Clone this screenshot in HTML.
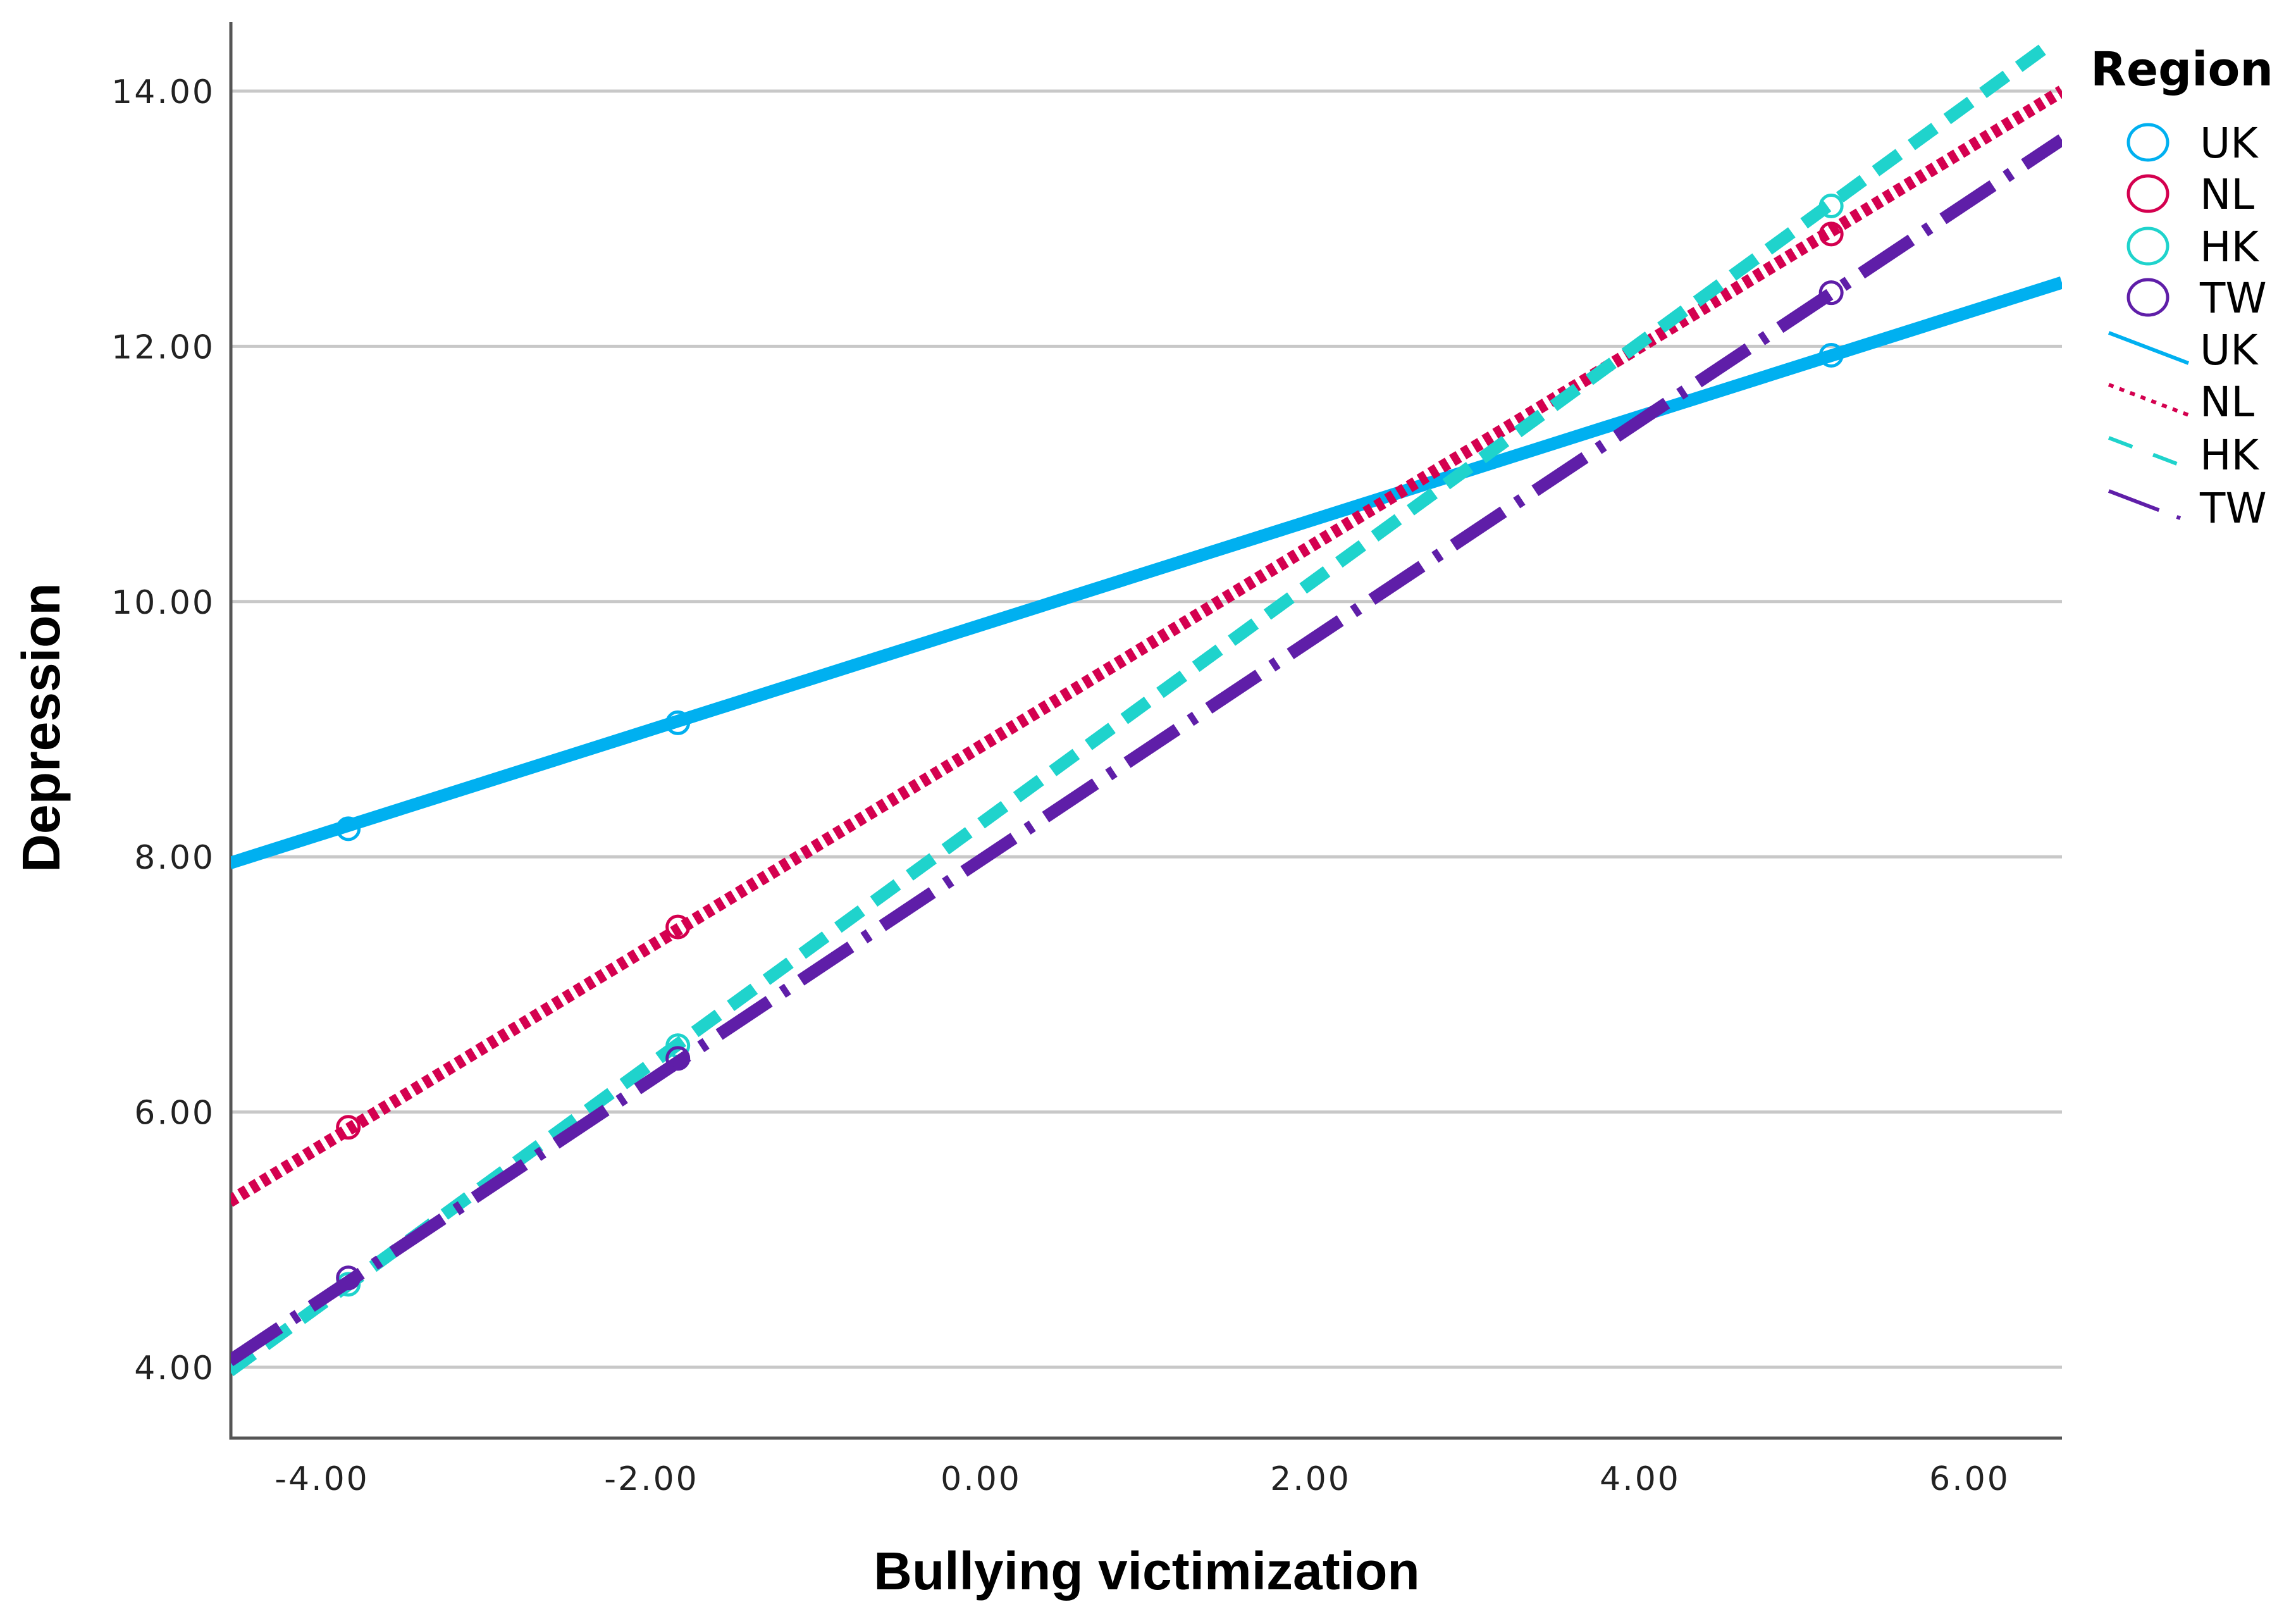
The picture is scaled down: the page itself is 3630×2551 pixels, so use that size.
<!DOCTYPE html>
<html><head><meta charset="utf-8">
<style>
html,body{margin:0;padding:0;background:#fff;}
svg{display:block;}
</style></head>
<body>
<svg id="chart" width="3630" height="2551" viewBox="0 0 3630 2551" xmlns="http://www.w3.org/2000/svg"></svg>
<script>
// ---- data ----
const regions = ["UK","NL","HK","TW"];
const lineStartX = [-4.56,-4.56,-4.56,-4.56];
const lineStartY = [7.95,5.30,3.97,4.05];
const lineEndX = [6.56,6.56,6.50,6.56];
const lineEndY = [12.50,14.00,14.38,13.62];
const pointX = [-3.84,-1.84,5.16];
const ukPoints = [8.22,9.05,11.93];
const nlPoints = [5.88,7.45,12.88];
const hkPoints = [4.65,6.52,13.10];
const twPoints = [4.70,6.42,12.42];
const xTicks = [-4,-2,0,2,4,6];
const xTickLabels = ["-4.00","-2.00","0.00","2.00","4.00","6.00"];
const yTicks = [4,6,8,10,12,14];
const yTickLabels = ["4.00","6.00","8.00","10.00","12.00","14.00"];

// ---- styles ----
const colors = ["#00b0f0","#d4004f","#1fd3cc","#5f1ea8"];
const dashes = ["none","12 8","46 24","95 25 10 25"];
const pointSets = [ukPoints,nlPoints,hkPoints,twPoints];

const L=365, R=3260, T=35, B=2273;
const x = v => 1551 + v*260.5;
const y = v => 2161 - (v-4)*201.7;
const NS="http://www.w3.org/2000/svg";
const svg=document.getElementById('chart');
function mk(tag,attrs,parent){const e=document.createElementNS(NS,tag);for(const k in attrs)e.setAttribute(k,attrs[k]);(parent||svg).appendChild(e);return e;}

// grid
const grid=mk('g',{});


yTicks.forEach((t,i)=>{
  const g=mk('line',{x1:L,x2:R,y1:y(t),y2:y(t),stroke:'#c8c8c8','stroke-width':5},grid);
  
  
  const tx=mk('text',{x:340,y:y(t)+19,'text-anchor':'end','font-family':'DejaVu Sans, sans-serif','font-size':52,fill:'#222','letter-spacing':'3'});
  tx.textContent=yTickLabels[i];
  
  
});
xTicks.forEach((t,i)=>{
  const tx=mk('text',{x:x(t),y:2355,'text-anchor':'middle','font-family':'DejaVu Sans, sans-serif','font-size':52,fill:'#222','letter-spacing':'3'});
  tx.textContent=xTickLabels[i];
  
  
});

// axes
const ax=mk('path',{d:`M${L} ${T} L${L} ${B} L${R} ${B}`,fill:'none',stroke:'#555','stroke-width':5});



// series
const clip=mk('clipPath',{id:'pc'});
mk('rect',{x:L,y:0,width:R-L,height:B},clip);
regions.forEach((r,i)=>{
  const g=mk('g',{'clip-path':'url(#pc)'});
  
  
  const ln=mk('line',{x1:x(lineStartX[i]),y1:y(lineStartY[i]),x2:x(lineEndX[i]),y2:y(lineEndY[i]),stroke:colors[i],'stroke-width':20,'stroke-dasharray':dashes[i]},g);
  
  
  pointX.forEach((px,j)=>{
    const c=mk('circle',{cx:x(px),cy:y(pointSets[i][j]),r:17,fill:'none',stroke:colors[i],'stroke-width':5},g);
    
    
  });
});

// axis titles
const xt=mk('text',{x:1813,y:2512,'text-anchor':'middle','font-family':'Liberation Sans, sans-serif','font-weight':'bold','font-size':84,fill:'#000'});
xt.textContent='Bullying victimization';


const yt=mk('text',{x:0,y:0,'text-anchor':'middle','font-family':'Liberation Sans, sans-serif','font-weight':'bold','font-size':84,fill:'#000',transform:'translate(94 1150) rotate(-90)'});
yt.textContent='Depression';



// legend
const lg=mk('g',{});


const lt=mk('text',{x:3305,y:135,'font-family':'DejaVu Sans, sans-serif','font-weight':'bold','font-size':74,fill:'#000'},lg);
lt.textContent='Region';


const circY=[225,306,389,470], lineY=[552,634,718,802];
regions.forEach((r,i)=>{
  const c=mk('ellipse',{cx:3396,cy:circY[i],rx:31,ry:28,fill:'none',stroke:colors[i],'stroke-width':5},lg);
  
  
  const t=mk('text',{x:3478,y:circY[i]+24,'font-family':'DejaVu Sans, sans-serif','font-size':66,fill:'#000'},lg);
  t.textContent=r;
  
  
  const d=['none','8 10','40 35','85 30 6 30'][i];
  const l=mk('line',{x1:3334,y1:lineY[i]-26,x2:3460,y2:lineY[i]+22,stroke:colors[i],'stroke-width':6,'stroke-dasharray':d},lg);
  
  
  const t2=mk('text',{x:3478,y:lineY[i]+24,'font-family':'DejaVu Sans, sans-serif','font-size':66,fill:'#000'},lg);
  t2.textContent=r;
  
  
});
</script>
</body></html>
